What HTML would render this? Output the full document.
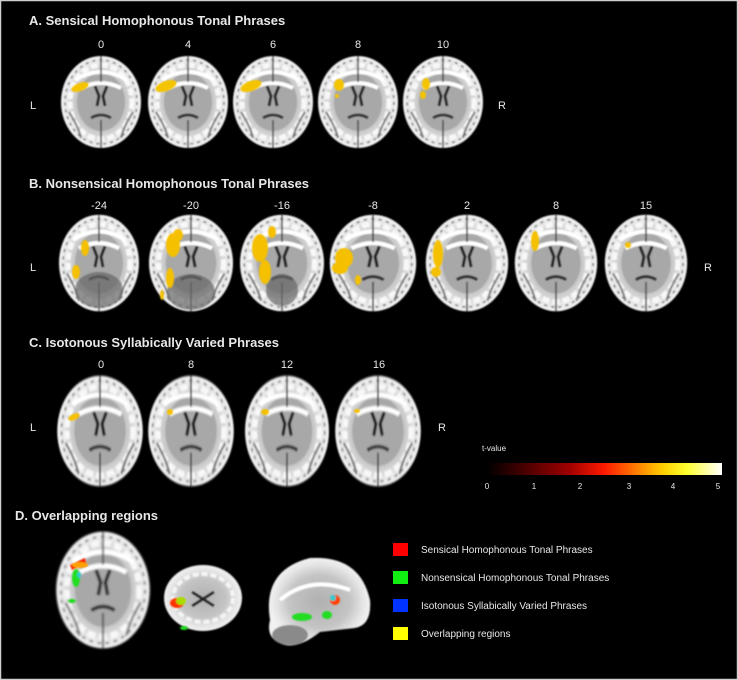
<!DOCTYPE html>
<html><head><meta charset="utf-8"><style>
html,body{margin:0;padding:0;background:#000}
svg{display:block}
text{font-family:"Liberation Sans",sans-serif;fill:#e8e8e8}
.t{font-size:13px;font-weight:bold}
.n{font-size:11px}
.lg{font-size:10px}
</style></head><body>
<svg width="738" height="680" viewBox="0 0 738 680" xmlns="http://www.w3.org/2000/svg">
<defs>
<radialGradient id="bg" cx="50%" cy="50%" r="50%">
<stop offset="0" stop-color="#b0b0b0"/><stop offset="0.6" stop-color="#c4c4c4"/><stop offset="0.85" stop-color="#e4e4e4"/><stop offset="1" stop-color="#f2f2f2"/>
</radialGradient>
<linearGradient id="cb" x1="0" x2="1"><stop offset="0" stop-color="#000"/><stop offset="0.35" stop-color="#a00000"/><stop offset="0.5" stop-color="#ff1a00"/><stop offset="0.75" stop-color="#ffd000"/><stop offset="0.85" stop-color="#ffff30"/><stop offset="1" stop-color="#ffffff"/></linearGradient>
<filter id="bl"><feGaussianBlur stdDeviation="0.8"/></filter>
<g id="ax" filter="url(#bl)">
<ellipse cx="0" cy="0" rx="40" ry="46" fill="url(#bg)"/>
<ellipse cx="0" cy="0" rx="36" ry="42" fill="none" stroke="#777" stroke-width="1.5" stroke-dasharray="3 4"/>
<ellipse cx="0" cy="0" rx="31" ry="37" fill="none" stroke="#f8f8f8" stroke-width="5" stroke-dasharray="7 3"/>
<ellipse cx="0" cy="0" rx="24" ry="29" fill="#a8a8a8"/>
<path d="M-26 -22 Q0 -38 26 -22 M-20 -14 Q0 -24 20 -14" stroke="#fff" stroke-width="4" fill="none"/>
<path d="M0 -46 V-20 M0 18 V46" stroke="#444" stroke-width="1.5"/>
<path d="M-6 -16 L-2 -6 L-4 4 M6 -16 L2 -6 L4 4" stroke="#222" stroke-width="3" fill="none"/>
<path d="M-10 16 Q0 10 10 16" stroke="#333" stroke-width="3" fill="none"/>
<path d="M-32 10 Q-22 26 -20 36 M32 10 Q22 26 20 36" stroke="#777" stroke-width="2" fill="none"/>
</g>
</defs>
<rect x="0.5" y="0.5" width="737" height="679" fill="#000" stroke="#cfcfcf" stroke-width="1.5"/>

<!-- A -->
<text class="t" x="29" y="25">A. Sensical Homophonous Tonal Phrases</text>
<g class="n" text-anchor="middle"><text x="101" y="48">0</text><text x="188" y="48">4</text><text x="273" y="48">6</text><text x="358" y="48">8</text><text x="443" y="48">10</text></g>
<text class="n" x="30" y="109">L</text><text class="n" x="498" y="109">R</text>
<use href="#ax" transform="translate(101,102)"/>
<use href="#ax" transform="translate(188,102)"/>
<use href="#ax" transform="translate(273,102)"/>
<use href="#ax" transform="translate(358,102)"/>
<use href="#ax" transform="translate(443,102)"/>
<g fill="#f5c400" filter="url(#bl)">
<ellipse cx="80" cy="87" rx="9" ry="4" transform="rotate(-20 80 87)"/>
<ellipse cx="166" cy="86" rx="11" ry="5" transform="rotate(-20 166 86)"/>
<ellipse cx="251" cy="86" rx="11" ry="5" transform="rotate(-20 251 86)"/>
<ellipse cx="339" cy="85" rx="5" ry="6"/><circle cx="337" cy="96" r="2"/>
<ellipse cx="426" cy="84" rx="4" ry="6"/><ellipse cx="423" cy="95" rx="3" ry="4"/>
</g>

<!-- B -->
<text class="t" x="29" y="188">B. Nonsensical Homophonous Tonal Phrases</text>
<g class="n" text-anchor="middle"><text x="99" y="209">-24</text><text x="191" y="209">-20</text><text x="282" y="209">-16</text><text x="373" y="209">-8</text><text x="467" y="209">2</text><text x="556" y="209">8</text><text x="646" y="209">15</text></g>
<text class="n" x="30" y="271">L</text><text class="n" x="704" y="271">R</text>
<use href="#ax" transform="translate(99,263) scale(1,1.05)"/>
<use href="#ax" transform="translate(191,263) scale(1.05,1.05)"/>
<use href="#ax" transform="translate(282,263) scale(1.05,1.05)"/>
<use href="#ax" transform="translate(373,263) scale(1.08,1.05)"/>
<use href="#ax" transform="translate(467,263) scale(1.03,1.05)"/>
<use href="#ax" transform="translate(556,263) scale(1.03,1.05)"/>
<use href="#ax" transform="translate(646,263) scale(1.03,1.05)"/>
<g fill="#666" opacity="0.7" filter="url(#bl)"><ellipse cx="99" cy="290" rx="24" ry="18"/><ellipse cx="191" cy="292" rx="24" ry="18"/><ellipse cx="282" cy="290" rx="16" ry="16"/></g>
<g fill="#f5c000" filter="url(#bl)">
<ellipse cx="85" cy="248" rx="4" ry="8"/><ellipse cx="76" cy="272" rx="4" ry="7"/>
<ellipse cx="173" cy="245" rx="7" ry="12"/><ellipse cx="178" cy="235" rx="5" ry="6"/><ellipse cx="170" cy="278" rx="4" ry="10"/><ellipse cx="162" cy="295" rx="2" ry="5"/>
<ellipse cx="260" cy="248" rx="8" ry="14"/><ellipse cx="265" cy="272" rx="6" ry="12"/><ellipse cx="272" cy="232" rx="4" ry="6"/>
<ellipse cx="344" cy="258" rx="9" ry="10"/><ellipse cx="340" cy="268" rx="8" ry="6"/><ellipse cx="358" cy="280" rx="3" ry="5"/>
<ellipse cx="438" cy="254" rx="5" ry="14"/><ellipse cx="436" cy="272" rx="5" ry="5"/>
<ellipse cx="535" cy="241" rx="4" ry="10"/>
<ellipse cx="628" cy="245" rx="3" ry="3"/>
</g>

<!-- C -->
<text class="t" x="29" y="347">C. Isotonous Syllabically Varied Phrases</text>
<g class="n" text-anchor="middle"><text x="101" y="368">0</text><text x="191" y="368">8</text><text x="287" y="368">12</text><text x="379" y="368">16</text></g>
<text class="n" x="30" y="431">L</text><text class="n" x="438" y="431">R</text>
<use href="#ax" transform="translate(100,431) scale(1.07,1.2)"/>
<use href="#ax" transform="translate(191,431) scale(1.07,1.2)"/>
<use href="#ax" transform="translate(287,431) scale(1.05,1.2)"/>
<use href="#ax" transform="translate(378,431) scale(1.07,1.2)"/>
<g fill="#f5c000" filter="url(#bl)">
<ellipse cx="74" cy="417" rx="6" ry="3" transform="rotate(-25 74 417)"/>
<ellipse cx="170" cy="412" rx="3" ry="3"/>
<ellipse cx="265" cy="412" rx="4" ry="3"/>
<ellipse cx="357" cy="411" rx="3" ry="2"/>
</g>

<!-- colorbar -->
<text x="482" y="451" style="font-size:8px">t-value</text>
<rect x="487" y="463" width="235" height="12" fill="url(#cb)"/>
<g text-anchor="middle" style="font-size:8px"><text x="487" y="489">0</text><text x="534" y="489">1</text><text x="580" y="489">2</text><text x="629" y="489">3</text><text x="673" y="489">4</text><text x="718" y="489">5</text></g>

<!-- D -->
<text class="t" x="15" y="520">D. Overlapping regions</text>
<use href="#ax" transform="translate(103,590) scale(1.17,1.27)"/>
<g filter="url(#bl)">
<ellipse cx="203" cy="598" rx="39" ry="33" fill="url(#bg)"/>
<ellipse cx="203" cy="598" rx="30" ry="24" fill="none" stroke="#f4f4f4" stroke-width="4" stroke-dasharray="6 3"/>
<path d="M192 592 L214 606 M214 592 L192 606" stroke="#222" stroke-width="3"/>
<path d="M270 620 Q262 570 310 558 Q360 555 370 600 Q372 625 355 628 L320 632 Q300 648 285 645 Q265 640 270 620Z" fill="url(#bg)"/>
<path d="M280 600 Q310 575 350 590" stroke="#fff" stroke-width="4" fill="none"/>
<ellipse cx="290" cy="635" rx="18" ry="10" fill="#8a8a8a"/>
</g>
<g filter="url(#bl)">
<path d="M70 565 L85 558 L86 563 L72 570Z" fill="#ff2000"/><ellipse cx="80" cy="565" rx="8" ry="3" fill="#ffa000"/>
<ellipse cx="76" cy="578" rx="4" ry="9" fill="#22dd22"/><ellipse cx="79" cy="575" rx="2" ry="3" fill="#33cccc"/>
<ellipse cx="72" cy="601" rx="4" ry="2" fill="#22dd22"/>
<ellipse cx="177" cy="603" rx="7" ry="5" fill="#ff3000"/><ellipse cx="181" cy="601" rx="5" ry="4" fill="#aadd00"/>
<ellipse cx="184" cy="628" rx="4" ry="2" fill="#22dd22"/>
<ellipse cx="302" cy="617" rx="10" ry="4" fill="#22dd22"/><ellipse cx="327" cy="615" rx="5" ry="4" fill="#22dd22"/>
<ellipse cx="335" cy="600" rx="5" ry="5" fill="#ff4000"/><ellipse cx="333" cy="598" rx="3" ry="3" fill="#33cccc"/>
</g>

<!-- legend -->
<rect x="393" y="543" width="15" height="13" fill="#ff0000"/>
<rect x="393" y="571" width="15" height="13" fill="#11ee11"/>
<rect x="393" y="599" width="15" height="13" fill="#0033ff"/>
<rect x="393" y="627" width="15" height="13" fill="#ffff00"/>
<g class="lg"><text x="421" y="553">Sensical Homophonous Tonal Phrases</text><text x="421" y="581">Nonsensical Homophonous Tonal Phrases</text><text x="421" y="609">Isotonous Syllabically Varied Phrases</text><text x="421" y="637">Overlapping regions</text></g>
</svg>
</body></html>
